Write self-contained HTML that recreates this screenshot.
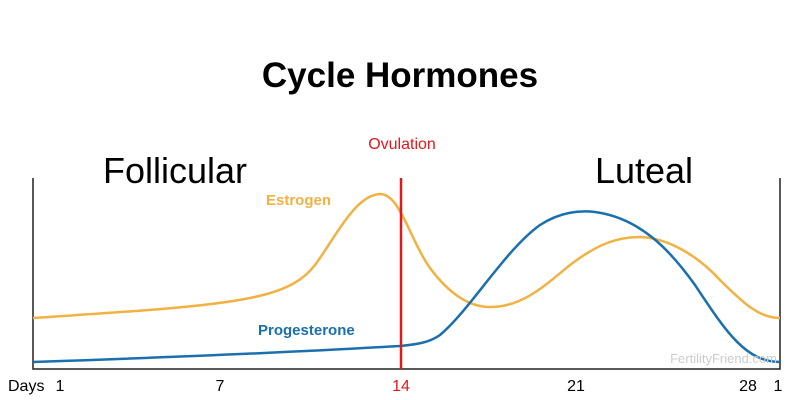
<!DOCTYPE html>
<html><head><style>
body{margin:0;background:#fff;}
svg{display:block;}
</style></head><body>
<svg width="800" height="400" xmlns="http://www.w3.org/2000/svg">
<text x="400" y="87" text-anchor="middle" font-family="Liberation Sans, sans-serif" font-weight="bold" font-size="35" fill="#000">Cycle Hormones</text>
<text x="402" y="149" text-anchor="middle" font-family="Liberation Sans, sans-serif" font-size="16" fill="#e0191c">Ovulation</text>
<text x="175" y="183" text-anchor="middle" font-family="Liberation Sans, sans-serif" font-size="36" fill="#000">Follicular</text>
<text x="644" y="183" text-anchor="middle" font-family="Liberation Sans, sans-serif" font-size="36" fill="#000">Luteal</text>
<path d="M33,178 V369 H780 V178" fill="none" stroke="#222" stroke-width="1.5"/>
<path d="M33,318 C120,312 200,308 250,298 C290,290 305,278 315,265 C335,238 355,195 380,194 C400,194 410,240 430,268 C450,295 470,307 490,307 C520,307 540,290 570,265 C600,242 620,237 640,237 C670,238 700,258 720,280 C745,305 760,318 780,318" fill="none" stroke="#f2b143" stroke-width="2.5"/>
<path d="M33,362 C150,358 300,352 400,346 C420,344 430,342 440,335 C470,310 505,250 540,225 C560,212 580,210 595,212 C640,218 670,250 695,285 C725,330 745,362 780,362" fill="none" stroke="#1a6fae" stroke-width="2.5"/>
<line x1="401" y1="178" x2="401" y2="369" stroke="#e0191c" stroke-width="2.5"/>
<text x="266" y="205" font-family="Liberation Sans, sans-serif" font-weight="bold" font-size="15" fill="#f2b143">Estrogen</text>
<text x="258" y="335" font-family="Liberation Sans, sans-serif" font-weight="bold" font-size="15" fill="#1a6fae">Progesterone</text>
<text x="777" y="363" text-anchor="end" font-family="Liberation Sans, sans-serif" font-size="13" fill="#ccc">FertilityFriend.com</text>
<g font-family="Liberation Sans, sans-serif" font-size="16" fill="#000">
<text x="8" y="391">Days</text>
<text x="60" y="391" text-anchor="middle">1</text>
<text x="220" y="391" text-anchor="middle">7</text>
<text x="401" y="391" text-anchor="middle" fill="#e0191c">14</text>
<text x="576" y="391" text-anchor="middle">21</text>
<text x="748" y="391" text-anchor="middle">28</text>
<text x="778" y="391" text-anchor="middle">1</text>
</g>
</svg>
</body></html>
